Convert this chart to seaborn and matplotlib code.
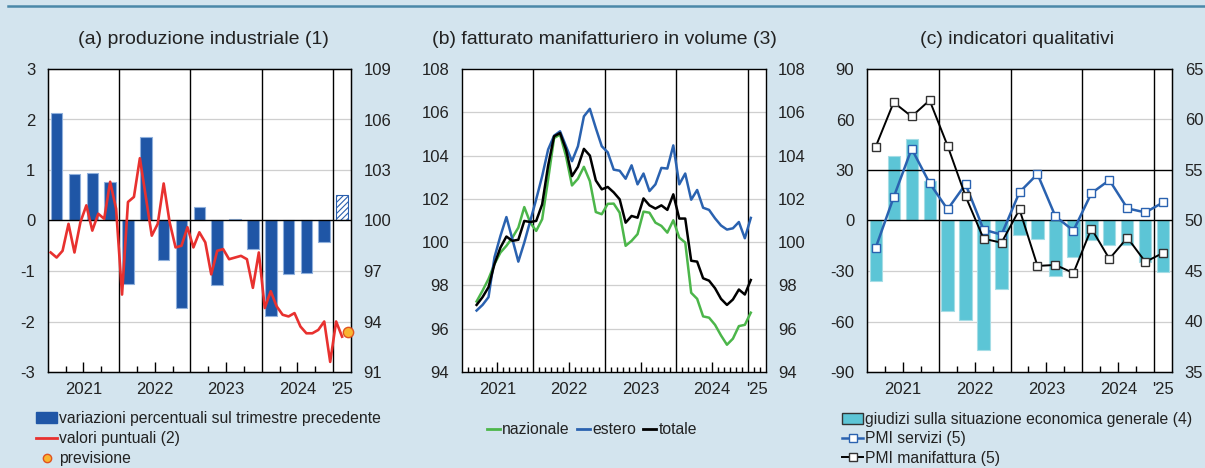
import numpy as np
import pandas as pd
import seaborn as sns
import matplotlib.pyplot as plt
from matplotlib.lines import Line2D
from matplotlib.patches import Patch

plt.rcParams['font.family'] = ['Liberation Sans', 'DejaVu Sans']
plt.rcParams['axes.unicode_minus'] = False
plt.rcParams['hatch.linewidth'] = 0.8
plt.rcParams['hatch.color'] = '#2a5fae'

# ---------------- data ----------------
# (a) industrial production
prod_quarters = pd.period_range('2021Q1', '2024Q4', freq='Q')
prod_qoq = [2.12, 0.92, 0.94, 0.77, -1.26, 1.65, -0.79, -1.74,
            0.27, -1.28, 0.03, -0.56, -1.89, -1.05, -1.03, -0.43]
fcst_quarter = pd.Period('2025Q1', freq='Q')
fcst_qoq = 0.51

prod_months = pd.period_range('2021-01', '2025-02', freq='M')
prod_level = [98.1, 97.8, 98.2, 99.8, 98.1, 99.9, 100.9, 99.4, 100.4, 100.1, 102.3, 100.7,
              95.6, 101.1, 101.4, 103.7, 101.4, 99.1, 99.8, 102.2, 99.9, 98.4, 98.5, 99.6,
              98.4, 99.3, 98.7, 96.8, 98.2, 98.3, 97.7, 97.8, 97.9, 97.7, 96.0, 98.1,
              94.8, 95.8, 94.9, 94.4, 94.3, 94.5, 93.7, 93.3, 93.3, 93.5, 94.0, 91.6,
              94.0, 93.1]
fcst_month = pd.Period('2025-03', freq='M')
fcst_level = 93.4

# (b) manufacturing turnover in volume
turn_months = pd.period_range('2021-03', '2025-01', freq='M')
turn_naz = [97.26, 97.76, 98.30, 98.99, 99.52, 99.83, 100.21, 100.67, 101.62, 100.90,
            100.52, 101.06, 102.90, 104.81, 104.97, 103.97, 102.62, 102.93, 103.48, 102.82,
            101.39, 101.29, 101.77, 101.78, 101.36, 99.83, 100.06, 100.37, 101.41, 101.36,
            100.90, 100.75, 100.44, 101.01, 100.21, 99.98, 97.66, 97.38, 96.57, 96.51,
            96.18, 95.69, 95.26, 95.54, 96.12, 96.18, 96.74]
turn_est = [96.84, 97.10, 97.46, 99.30, 100.29, 101.16, 100.14, 99.10, 99.98, 100.98,
            101.98, 103.05, 104.28, 104.92, 105.12, 104.43, 103.74, 104.43, 105.81, 106.16,
            105.27, 104.43, 104.15, 103.35, 103.30, 102.93, 103.55, 102.67, 103.17, 102.36,
            102.67, 103.43, 103.40, 104.47, 102.67, 103.17, 101.96, 102.41, 101.59, 101.49,
            101.10, 100.77, 100.58, 100.64, 100.93, 100.18, 101.12]
turn_tot = [97.10, 97.46, 97.92, 98.99, 99.75, 100.26, 100.06, 100.11, 100.98, 100.93,
            100.98, 101.75, 103.54, 104.89, 105.04, 104.28, 103.05, 103.48, 104.31, 104.00,
            102.85, 102.44, 102.55, 102.30, 101.98, 100.90, 101.21, 101.13, 102.02, 101.70,
            101.55, 101.70, 101.49, 102.21, 101.09, 101.09, 99.14, 99.10, 98.33, 98.22,
            97.87, 97.38, 97.10, 97.35, 97.81, 97.58, 98.25]

# (c) qualitative indicators
qual_quarters = pd.period_range('2021Q1', '2025Q1', freq='Q')
giudizi = [-36.0, 38.4, 48.4, 23.2, -53.7, -59.0, -76.8, -40.4,
           -8.9, -11.2, -32.9, -21.9, -11.8, -14.4, -14.8, -24.8, -30.3]
pmi_servizi = [47.3, 52.3, 57.1, 53.7, 51.1, 53.6, 49.1, 48.6,
               52.8, 54.6, 50.4, 49.0, 52.7, 54.0, 51.2, 50.8, 51.8]
pmi_manif = [57.3, 61.7, 60.3, 61.9, 57.4, 52.4, 48.2, 47.8,
             51.1, 45.5, 45.6, 44.8, 49.2, 46.2, 48.3, 45.9, 46.8]

year_labels = ['2021', '2022', '2023', '2024', "'25"]


def qpos(periods):
    p = pd.PeriodIndex(periods)
    return np.asarray(p.year + (p.quarter - 0.5) / 4)


def mpos(periods):
    p = pd.PeriodIndex(periods)
    return np.asarray(p.year + (p.month - 0.5) / 12)


BG = '#d3e4ee'
BAR_BLUE = '#1f56a6'
RED = '#e8312f'
GREEN = '#4cb64a'
LBLUE = '#2a62b0'
CYAN = '#5cc5d6'
GRID = '#cfcfcf'
TXT = '#222222'
TICK_FS = 12


def setup(ax, ylim, yticks, black_h=(0,), monthly=False):
    ax.set_facecolor('white')
    ax.set_xlim(2021, 2025.25)
    ax.set_ylim(*ylim)
    ax.set_yticks(yticks)
    for y in yticks[1:-1]:
        ax.axhline(y, color='black' if y in black_h else GRID,
                   lw=1.0 if y in black_h else 0.9, zorder=0.6 if y not in black_h else 2.5)
    for yr in [2022, 2023, 2024, 2025]:
        ax.axvline(yr, color='black', lw=1.0, zorder=2.5)
    ax.set_xticks([2021.5, 2022.5, 2023.5, 2024.5, 2025.125])
    ax.set_xticklabels(year_labels)
    ax.xaxis.get_major_ticks()[-1].tick1line.set_visible(False)
    step = 1 / 12 if monthly else 0.25
    minor = [2021 + k * step for k in range(1, int(round(4.25 / step)))]
    minor = [m for m in minor if abs(m - round(m)) > 1e-6 and abs(m - round(m - 0.5) - 0.5) > 1e-6]
    ax.set_xticks(minor, minor=True)
    ax.tick_params(axis='x', which='major', direction='in', length=7, width=1, pad=7,
                   labelsize=TICK_FS, colors='black', labelcolor=TXT)
    ax.tick_params(axis='x', which='minor', direction='in', length=4 if not monthly else 3.5,
                   width=1)
    ax.tick_params(axis='y', length=0, pad=9, labelsize=TICK_FS, labelcolor=TXT)
    for s in ax.spines.values():
        s.set_color('black')
        s.set_linewidth(1)
    ax.set_xlabel('')
    ax.set_ylabel('')


fig = plt.figure(figsize=(12.05, 4.68), dpi=100)
fig.patch.set_facecolor(BG)
fig.add_artist(Line2D([0.007, 1], [1 - 6 / 468] * 2, color='#4a88a8', lw=1.8,
                      transform=fig.transFigure))

W, H = 1205, 468
def rect(x0, x1, y0=69, y1=372):
    return [x0 / W, 1 - y1 / H, (x1 - x0) / W, (y1 - y0) / H]

# ---------------- panel (a) ----------------
axa = fig.add_axes(rect(47.7, 351))
sns.barplot(x=qpos(prod_quarters), y=prod_qoq, native_scale=True, width=0.65,
            color=BAR_BLUE, saturation=1, edgecolor='#8fb0dc', linewidth=0.8,
            errorbar=None, ax=axa, zorder=2)
axa.bar(qpos([fcst_quarter]), [fcst_qoq], width=0.1625, color='white',
        edgecolor='#2a5fae', hatch='//////', linewidth=0.8, zorder=2)
setup(axa, (-3, 3), list(range(-3, 4)))
axa2 = axa.twinx()
sns.lineplot(x=mpos(prod_months), y=prod_level, color=RED, lw=1.9, ax=axa2, zorder=3)
sns.scatterplot(x=mpos([fcst_month]), y=[fcst_level], color='#f9b42f', edgecolor='#e0521f',
                s=55, linewidth=1, ax=axa2, zorder=4, clip_on=False)
axa2.set_ylim(91, 109)
axa2.set_yticks(range(91, 110, 3))
axa2.tick_params(axis='y', length=0, pad=9, labelsize=TICK_FS, labelcolor=TXT)
axa2.set_ylabel('')
axa2.set_xlim(2021, 2025.25)

# ---------------- panel (b) ----------------
axb = fig.add_axes(rect(461.7, 765.7))
setup(axb, (94, 108), list(range(94, 109, 2)), black_h=(), monthly=True)
xb = mpos(turn_months)
sns.lineplot(x=xb, y=turn_naz, color=GREEN, lw=1.8, ax=axb, zorder=3)
sns.lineplot(x=xb, y=turn_est, color=LBLUE, lw=1.8, ax=axb, zorder=3)
sns.lineplot(x=xb, y=turn_tot, color='black', lw=1.8, ax=axb, zorder=3)
axb.tick_params(axis='y', labelright=True, right=False)
axb.set_xlim(2021, 2025.25)
axb.set_ylabel('')

# ---------------- panel (c) ----------------
axc = fig.add_axes(rect(866.7, 1172.3))
sns.barplot(x=qpos(qual_quarters), y=giudizi, native_scale=True, width=0.68,
            color=CYAN, saturation=1, edgecolor='#a5dde6', linewidth=0.8,
            errorbar=None, ax=axc, zorder=2)
setup(axc, (-90, 90), list(range(-90, 91, 30)), black_h=(0, 30))
axc2 = axc.twinx()
xc = qpos(qual_quarters)
sns.lineplot(x=xc, y=pmi_servizi, color=LBLUE, lw=1.8, marker='s', markersize=6,
             markerfacecolor='white', markeredgecolor=LBLUE, markeredgewidth=1, ax=axc2, zorder=3)
sns.lineplot(x=xc, y=pmi_manif, color='black', lw=1.4, marker='s', markersize=6,
             markerfacecolor='white', markeredgecolor='#333333', markeredgewidth=1, ax=axc2,
             zorder=3)
axc2.set_ylim(35, 65)
axc2.set_yticks(range(35, 66, 5))
axc2.tick_params(axis='y', length=0, pad=9, labelsize=TICK_FS, labelcolor=TXT)
axc2.set_ylabel('')
axc2.set_xlim(2021, 2025.25)

# ---------------- titles ----------------
for xc_, t in [(203.5, '(a) produzione industriale (1)'),
               (604, '(b) fatturato manifatturiero in volume (3)'),
               (1017, '(c) indicatori qualitativi')]:
    fig.text(xc_ / W, 1 - 40 / H, t, ha='center', va='center', fontsize=14, color=TXT)

# ---------------- legends ----------------
leg_kw = dict(frameon=False, fontsize=11.3, borderpad=0, borderaxespad=0,
              handletextpad=0.12, labelcolor=TXT, loc='upper left')
fig.legend([Patch(facecolor=BAR_BLUE, edgecolor=BAR_BLUE),
            Line2D([], [], color=RED, lw=2),
            Line2D([], [], ls='none', marker='o', mfc='#f9b42f', mec='#e0521f', ms=6)],
           ['variazioni percentuali sul trimestre precedente', 'valori puntuali (2)', 'previsione'],
           bbox_to_anchor=(36 / W, 1 - 411 / H), handlelength=1.35, labelspacing=0.33, **leg_kw)
fig.legend([Line2D([], [], color=GREEN, lw=2), Line2D([], [], color=LBLUE, lw=2),
            Line2D([], [], color='black', lw=2)],
           ['nazionale', 'estero', 'totale'], ncol=3,
           bbox_to_anchor=(487 / W, 1 - 422 / H), handlelength=0.85, columnspacing=0.45, **leg_kw)
fig.legend([Patch(facecolor=CYAN, edgecolor='#333333', lw=1),
            Line2D([], [], color=LBLUE, lw=1.8, marker='s', mfc='white', mec=LBLUE, ms=6),
            Line2D([], [], color='black', lw=1.4, marker='s', mfc='white', mec='#333333', ms=6)],
           ['giudizi sulla situazione economica generale (4)', 'PMI servizi (5)',
            'PMI manifattura (5)'],
           bbox_to_anchor=(842 / W, 1 - 412 / H), handlelength=1.35, labelspacing=0.28, **leg_kw)

fig.savefig('out.png', dpi=100, facecolor=BG)
